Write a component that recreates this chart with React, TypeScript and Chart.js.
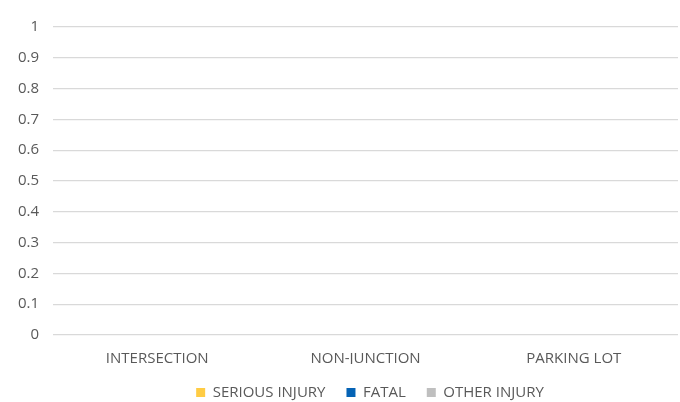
import React, { useEffect, useRef } from "react";
import { Chart, registerables } from "chart.js";

Chart.register(...registerables);

const categories = ["INTERSECTION", "NON-JUNCTION", "PARKING LOT"];
const seriousInjury = [0, 0, 0];
const fatal = [0, 0, 0];
const otherInjury = [0, 0, 0];
const yTicks = { min: 0, max: 1, step: 0.1 };

const legendShift = {
  id: "legendShift",
  afterLayout(chart: any) {
    if (chart.legend) {
      chart.legend.left += 29;
      chart.legend.right += 29;
    }
  },
};

export default function App() {
  const ref = useRef<HTMLCanvasElement | null>(null);
  useEffect(() => {
    document.body.style.margin = "0";
    const ctx = ref.current!;
    const font = { family: "'Open Sans', 'Liberation Sans', sans-serif", size: 15 };
    const chart = new Chart(ctx, {
      type: "bar",
      data: {
        labels: categories,
        datasets: [
          { label: "SERIOUS INJURY", data: seriousInjury, backgroundColor: "#FFCC44" },
          { label: "FATAL", data: fatal, backgroundColor: "#0563B5" },
          { label: "OTHER INJURY", data: otherInjury, backgroundColor: "#BFBFBF" },
        ],
      },
      plugins: [legendShift],
      options: {
        animation: false,
        responsive: false,
        maintainAspectRatio: false,
        layout: { padding: { top: 27, right: 2, left: 4, bottom: -8 } },
        plugins: {
          tooltip: { enabled: false },
          legend: {
            position: "bottom",
            labels: {
              font,
              color: "#595959",
              boxWidth: 9,
              boxHeight: 9,
              padding: 21,
            },
          },
        },
        scales: {
          x: {
            grid: { display: false },
            border: { display: false },
            ticks: { font, color: "#595959", padding: 7 },
            afterFit: (scale: any) => {
              scale.height -= 11;
            },
          },
          y: {
            min: yTicks.min,
            max: yTicks.max,
            ticks: {
              stepSize: yTicks.step,
              font,
              color: "#595959",
              padding: 14,
              callback: (v: any) => String(Math.round(Number(v) * 10) / 10),
            },
            grid: { color: "#D9D9D9", lineWidth: 1.3, drawTicks: false },
            border: { display: false },
          },
        },
      },
    });
    return () => chart.destroy();
  }, []);
  return (
    <div style={{ width: 680, height: 402, background: "#fff" }}>
      <canvas ref={ref} width={680} height={402} style={{ width: 680, height: 402 }} />
    </div>
  );
}
